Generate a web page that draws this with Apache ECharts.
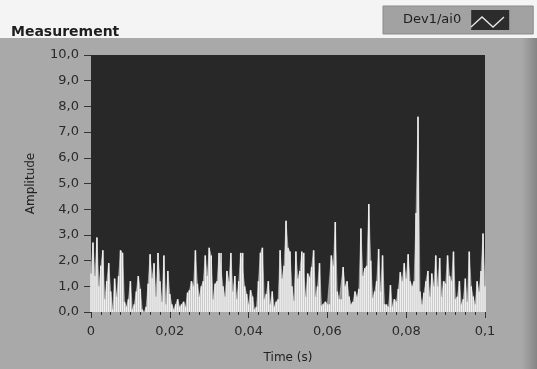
<!DOCTYPE html>
<html>
<head>
<meta charset="utf-8">
<script src="https://cdn.jsdelivr.net/npm/echarts@6/dist/echarts.min.js"></script>
<style>
  html, body { margin: 0; padding: 0; background: #f2f2f2; }
  #chart { width: 537px; height: 369px; }
</style>
</head>
<body>
<div id="chart"></div>
<script>
// sample spacing in seconds (0.1 s shown over 200 samples)
const sampleStep = 0.0005
const xTicks = [0, 0.02, 0.04, 0.06, 0.08, 0.1]
const seriesName = 'Dev1/ai0'

// amplitude, one value per sample
const amplitude = [
  1.5, 2.7, 1.4, 2.9, 1.0, 1.8, 2.4, 0.5, 1.2, 1.9,
  0.8, 0.1, 1.3, 0.6, 1.4, 2.4, 2.3, 0.4, 0.2, 0.5,
  1.2, 0.1, 0.3, 0.8, 1.4, 0.9, 0.1, 0.0, 0.2, 1.1,
  2.25, 1.3, 1.9, 0.6, 2.3, 1.2, 0.4, 2.2, 0.3, 1.6,
  0.7, 0.3, 0.1, 0.3, 0.5, 0.2, 0.3, 0.4, 0.2, 0.75,
  0.85, 1.2, 1.0, 2.4, 1.1, 0.6, 1.0, 1.2, 2.2, 1.4,
  2.5, 2.2, 0.5, 1.1, 1.2, 2.3, 2.3, 1.0, 0.6, 1.6,
  1.2, 2.3, 0.8, 1.4, 0.5, 1.2, 2.3, 2.3, 1.0, 0.7,
  0.3, 0.85, 0.6, 0.1, 0.2, 1.2, 2.3, 2.5, 0.5, 0.7,
  1.2, 0.3, 0.8, 0.2, 0.4, 0.5, 2.4, 1.3, 1.8, 3.55,
  2.5, 2.35, 1.0, 0.45, 2.35, 1.3, 1.6, 2.35, 2.3, 0.6,
  1.5, 1.35, 1.75, 2.4, 0.6, 1.0, 1.9, 0.25, 0.3, 0.4,
  0.3, 0.3, 2.2, 1.8, 3.5, 0.8, 0.5, 0.5, 1.75, 1.0,
  1.2, 0.6, 0.3, 0.4, 0.8, 0.6, 0.9, 3.25, 1.4, 1.7,
  1.8, 4.2, 2.0, 0.55, 0.8, 1.2, 2.45, 0.8, 2.2, 0.3,
  0.3, 0.2, 1.05, 0.2, 0.5, 0.4, 0.9, 1.55, 1.2, 1.9,
  1.3, 2.25, 1.2, 1.0, 1.2, 3.85, 7.6, 0.8, 0.3, 0.75,
  1.2, 1.6, 0.6, 1.5, 1.0, 2.2, 1.0, 2.1, 0.6, 1.2,
  1.1, 2.2, 1.4, 1.2, 2.35, 0.5, 0.6, 1.2, 0.3, 0.5,
  1.3, 0.4, 2.35, 1.0, 0.6, 0.3, 1.2, 0.8, 1.6, 3.05,
  1.0
]

const commaNum = (v, digits) => {
  if (v === 0 && digits === 0) return '0'
  return String(digits ? v.toFixed(digits) : +v.toFixed(3)).replace('.', ',')
}

const chart = echarts.init(document.getElementById('chart'))

chart.setOption({
  animation: false,
  backgroundColor: '#f4f4f4',
  graphic: [
    {
      type: 'rect',
      z: -10,
      shape: { x: 0, y: 38, width: 537, height: 331 },
      style: { fill: '#a9a9a9' }
    },
    {
      type: 'rect',
      z: -9,
      shape: { x: 522, y: 38, width: 15, height: 331 },
      style: {
        fill: new echarts.graphic.LinearGradient(0, 0, 1, 0, [
          { offset: 0, color: '#a9a9a9' },
          { offset: 1, color: '#858585' }
        ])
      }
    },
    {
      type: 'polyline',
      z: 100,
      shape: { points: [[471, 27], [482, 17], [493, 27], [504, 17]] },
      style: { stroke: '#e8e8e8', lineWidth: 1.3, fill: null }
    }
  ],
  title: {
    text: 'Measurement',
    left: 6,
    top: 20,
    textStyle: {
      fontFamily: 'DejaVu Sans',
      fontSize: 14,
      fontWeight: 'bold',
      color: '#1e1e1e'
    }
  },
  legend: {
    left: 383,
    top: 6,
    align: 'right',
    padding: [4, 24, 4, 20],
    backgroundColor: '#a2a2a2',
    borderColor: '#8a8a8a',
    borderWidth: 1,
    itemWidth: 38,
    itemHeight: 20,
    selectedMode: false,
    data: [{ name: seriesName, icon: 'rect', itemStyle: { color: '#2c2c2c' } }],
    textStyle: {
      fontFamily: 'DejaVu Sans',
      fontSize: 13,
      color: '#1e1e1e',
      padding: [0, 5, 0, 0]
    }
  },
  grid: {
    left: 91,
    top: 55,
    right: 52,
    bottom: 57,
    show: true,
    backgroundColor: '#282828',
    borderWidth: 0
  },
  xAxis: {
    type: 'value',
    min: xTicks[0],
    max: xTicks[xTicks.length - 1],
    interval: xTicks[1] - xTicks[0],
    name: 'Time (s)',
    nameLocation: 'middle',
    nameGap: 40,
    nameTextStyle: { fontFamily: 'DejaVu Sans', fontSize: 12, color: '#222' },
    axisLine: { show: false },
    axisTick: { show: true, length: 6, lineStyle: { color: '#333' } },
    minorTick: { show: true, splitNumber: 8, length: 3, lineStyle: { color: '#333' } },
    splitLine: { show: false },
    axisLabel: {
      fontFamily: 'DejaVu Sans',
      fontSize: 13,
      color: '#2a2a2a',
      margin: 13,
      formatter: v => commaNum(v, 0)
    }
  },
  yAxis: {
    type: 'value',
    min: 0,
    max: 10,
    interval: 1,
    offset: 3,
    name: 'Amplitude',
    nameLocation: 'middle',
    nameRotate: 90,
    nameGap: 51,
    nameTextStyle: { fontFamily: 'DejaVu Sans', fontSize: 12, color: '#222' },
    axisLine: { show: false },
    axisTick: { show: true, length: 7, lineStyle: { color: '#333' } },
    splitLine: { show: false },
    axisLabel: {
      fontFamily: 'DejaVu Sans',
      fontSize: 13,
      color: '#2a2a2a',
      margin: 9,
      formatter: v => commaNum(v, 1)
    }
  },
  series: [
    {
      name: seriesName,
      type: 'bar',
      silent: true,
      barWidth: 1.6,
      clip: true,
      data: amplitude.map((v, i) => [i * sampleStep, v]),
      itemStyle: { color: '#ececec' }
    },
    {
      name: seriesName,
      type: 'line',
      silent: true,
      symbol: 'none',
      data: amplitude.map((v, i) => [i * sampleStep, v]),
      lineStyle: { color: '#f0f0f0', width: 0.6, opacity: 0.7 },
      areaStyle: { color: '#f4f4f4', opacity: 0.55 }
    }
  ]
})
</script>
</body>
</html>
